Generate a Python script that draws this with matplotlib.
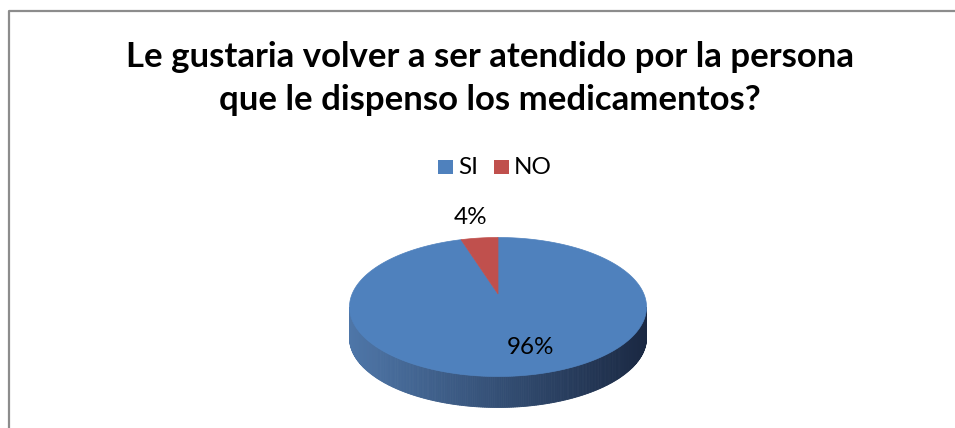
import numpy as np
import matplotlib
matplotlib.use("Agg")
import matplotlib.pyplot as plt
from matplotlib.patches import Polygon, Rectangle

# ---- data ----
categories = ["SI", "NO"]
values = [96, 4]
labels = ["96%", "4%"]
colors = ["#4F81BD", "#C0504D"]
title = "Le gustaria volver a ser atendido por la persona\nque le dispenso los medicamentos?"

W, H = 955, 428
fig = plt.figure(figsize=(W / 100, H / 100), dpi=100)
ax = fig.add_axes([0, 0, 1, 1])
ax.set_xlim(0, W)
ax.set_ylim(H, 0)
ax.axis("off")

FONT = ["Lato", "DejaVu Sans"]

# chart border (left & top visible)
ax.plot([8.5, 8.5, W + 5], [H + 5, 11, 11], color="#8c8c8c", lw=1.6, solid_capstyle="butt")

# title (one text per line, baseline-aligned)
for k, line in enumerate(title.split("\n")):
    ax.text(490, 67 + 43 * k, line, ha="center", va="baseline", fontsize=25,
            fontweight="bold", family=FONT, color="black")

# pie geometry (pixels)
cx, cy = 498, 307
a, b = 148.5, 69.5
depth = 31
apex_dy = -13

def pt(theta_deg):
    t = np.deg2rad(theta_deg)
    return cx + a * np.sin(t), cy - b * np.cos(t)

# side (front half) with gradient
c_left = np.array([78, 118, 168]) / 255.0
c_right = np.array([26, 40, 66]) / 255.0
n = 240
thetas = np.linspace(90, 270, n + 1)
for i in range(n):
    t0, t1 = thetas[i], thetas[i + 1]
    x0, y0 = pt(t0)
    x1, y1 = pt(t1)
    xm = (x0 + x1) / 2
    f = (xm - (cx - a)) / (2 * a)
    col = c_left * (1 - f) + c_right * f
    ax.add_patch(Polygon([(x0, y0), (x1, y1), (x1, y1 + depth), (x0, y0 + depth)],
                         closed=True, facecolor=col, edgecolor=col, lw=0.6))

# top face wedges (clockwise from 12 o'clock)
total = float(sum(values))
start = 0.0
for v, c in zip(values, colors):
    span = 360.0 * v / total
    ts = np.linspace(start, start + span, max(int(span * 2), 4))
    pts = [pt(t) for t in ts]
    poly = [(cx, cy + apex_dy)] + pts
    ax.add_patch(Polygon(poly, closed=True, facecolor=c, edgecolor=c, lw=0.5))
    start += span

# labels
LFS = 17.5
ax.text(530, 348, labels[0], ha="center", va="center", fontsize=LFS, family=FONT, color="black")
ax.text(471, 217, labels[1], ha="center", va="center", fontsize=LFS, family=FONT, color="black")

# legend
lx = [438, 494]
for i, (cat, c) in enumerate(zip(categories, colors)):
    ax.add_patch(Rectangle((lx[i], 160), 15, 14, facecolor=c, edgecolor="none"))
    ax.text(lx[i] + 20, 167, cat, ha="left", va="center", fontsize=LFS, family=FONT, color="black")

fig.savefig("out.png", dpi=100)
